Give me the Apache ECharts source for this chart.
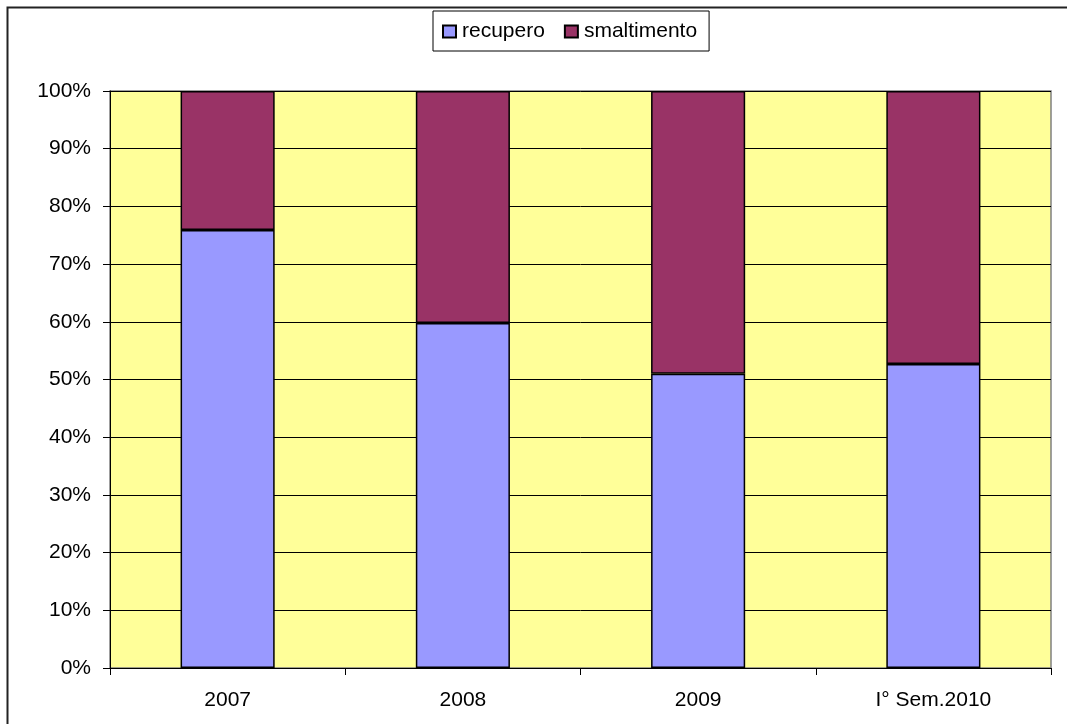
<!DOCTYPE html>
<html>
<head>
<meta charset="utf-8">
<script src="https://cdn.jsdelivr.net/npm/echarts@6/dist/echarts.min.js"></script>
<style>html,body{margin:0;padding:0;background:#fff}#c{width:1067px;height:724px}</style>
</head>
<body>
<div id="c"></div>
<script>
const categories = ['2007', '2008', '2009', 'I° Sem.2010'];
const recupero = [75.9, 59.8, 51.0, 52.7];
const smaltimento = [24.1, 40.2, 49.0, 47.3];
const seriesNames = ['recupero', 'smaltimento'];

const chart = echarts.init(document.getElementById('c'), null, {renderer: 'canvas'});
const font = 'Liberation Sans, Arial, sans-serif';
chart.setOption({
  animation: false,
  backgroundColor: '#fff',
  graphic: [{
    type: 'rect', z: -10,
    shape: {x: 7.5, y: 7.5, width: 1200, height: 900},
    style: {fill: 'none', stroke: '#222', lineWidth: 2}
  }],
  legend: {
    data: seriesNames,
    left: 433, top: 11,
    padding: [10, 12, 9, 9],
    itemGap: 19,
    itemWidth: 13, itemHeight: 12,
    icon: 'rect',
    borderColor: '#000', borderWidth: 1,
    backgroundColor: '#fff',
    textStyle: {fontFamily: font, fontSize: 21, color: '#000', padding: [0,0,0,1]}
  },
  grid: {
    left: 110, top: 91, width: 941, height: 577,
    show: true, backgroundColor: '#FFFF99', borderColor: '#808080', borderWidth: 1.5
  },
  xAxis: {
    type: 'category', data: categories,
    axisLine: {lineStyle: {color: '#000', width: 1}},
    axisTick: {show: true, alignWithLabel: false, length: 7, lineStyle: {color: '#000'}},
    axisLabel: {fontFamily: font, fontSize: 21, color: '#000', margin: 22}
  },
  yAxis: {
    type: 'value', min: 0, max: 100, interval: 10,
    axisLine: {show: true, lineStyle: {color: '#000', width: 1}},
    axisTick: {show: true, length: 7, lineStyle: {color: '#000'}},
    axisLabel: {fontFamily: font, fontSize: 21, color: '#000', margin: 19, formatter: '{value}%'},
    splitLine: {show: true, lineStyle: {color: '#000', width: 1}}
  },
  series: [
    {name: seriesNames[0], type: 'bar', stack: 's', data: recupero, barWidth: '40%',
     itemStyle: {color: '#9999FF', borderColor: '#000', borderWidth: 1.5}},
    {name: seriesNames[1], type: 'bar', stack: 's', data: smaltimento, barWidth: '40%',
     itemStyle: {color: '#993366', borderColor: '#000', borderWidth: 1.5}}
  ]
});
</script>
</body>
</html>
